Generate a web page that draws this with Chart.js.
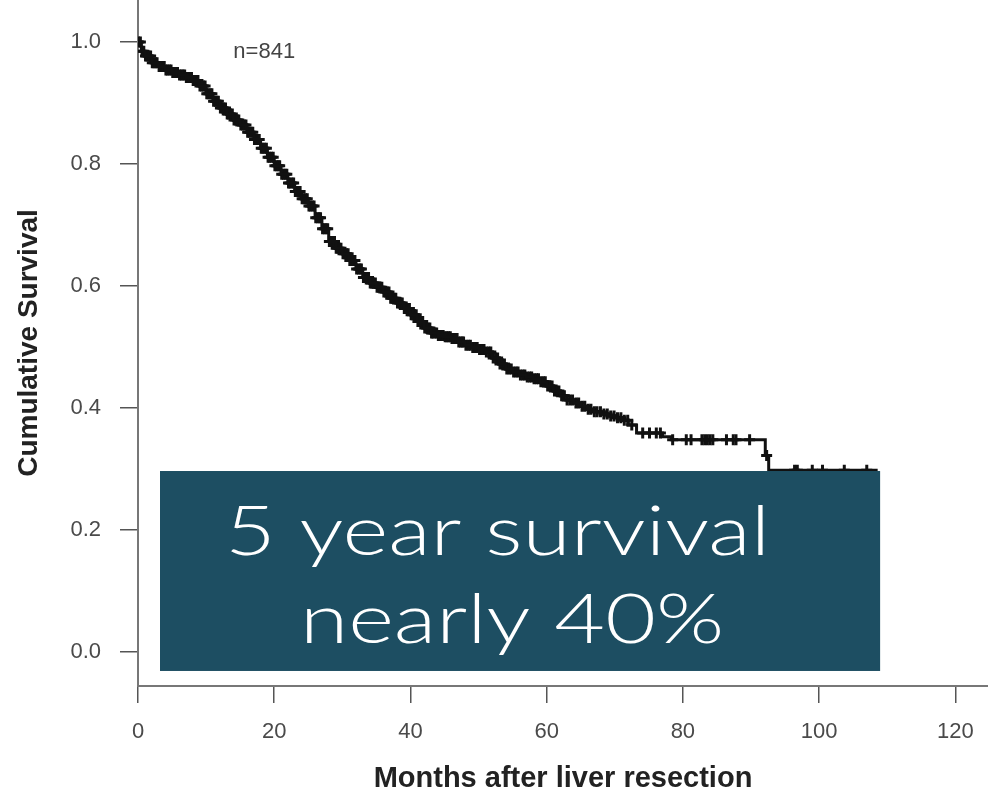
<!DOCTYPE html>
<html>
<head>
<meta charset="utf-8">
<script src="https://cdn.jsdelivr.net/npm/chart.js@4.4.1/dist/chart.umd.min.js"></script>
<style>
  html, body { margin: 0; padding: 0; background: #fff; }
  #wrap { width: 988px; height: 796px; }
</style>
</head>
<body>
<div id="wrap"><canvas id="kmChart" width="988" height="796"></canvas></div>
<script>
// Kaplan-Meier steps (months after resection, cumulative survival)
const months = [0, 0.5, 1, 2, 3, 4, 5, 6, 7, 8, 9, 10, 11, 12, 13, 14, 15, 16, 17, 18, 19, 20,
  21, 22, 23, 24, 25, 26, 27, 28, 29, 30, 31, 32, 33, 34, 35, 36, 37, 38, 39, 40,
  41, 42, 43, 44, 45, 46, 47, 48, 49, 50, 51, 52, 53, 54, 55, 56, 57, 58, 59, 60,
  61, 62, 63, 64, 65, 66, 67, 68, 69, 70, 71, 72, 73.2, 77, 78.3, 92.1, 92.6, 108.6];
const survival = [1.000, 0.985, 0.977, 0.966, 0.960, 0.954, 0.950, 0.946, 0.942, 0.937, 0.928, 0.915,
  0.903, 0.892, 0.882, 0.872, 0.864, 0.852, 0.840, 0.826, 0.811, 0.797,
  0.783, 0.769, 0.755, 0.743, 0.731, 0.712, 0.694, 0.673, 0.662, 0.653, 0.642, 0.628, 0.614, 0.605, 0.598, 0.590, 0.580, 0.572, 0.563, 0.553,
  0.542, 0.531, 0.523, 0.519, 0.517, 0.514, 0.508, 0.503, 0.499, 0.496, 0.492, 0.482, 0.472, 0.464, 0.459, 0.454, 0.451, 0.448, 0.443, 0.436,
  0.428, 0.420, 0.413, 0.408, 0.403, 0.398, 0.394, 0.390, 0.387, 0.384, 0.380, 0.372, 0.359, 0.353, 0.348, 0.322, 0.298, 0.298];

// censored patients (the + marks), very dense in the first four years
const censorMonths = [
  0.1, 0.35, 0.6, 0.85, 1.1, 1.3, 1.6, 1.85, 2.1, 2.35, 2.6, 2.8, 3.1, 3.35, 3.6, 3.85, 4.1, 4.3, 4.6, 4.85,
  5.1, 5.35, 5.6, 5.8, 6.1, 6.35, 6.6, 6.85, 7.1, 7.3, 7.6, 7.85, 8.1, 8.35, 8.6, 8.8, 9.1, 9.35, 9.6, 9.85,
  10.1, 10.3, 10.6, 10.85, 11.1, 11.35, 11.6, 11.8, 12.1, 12.35, 12.6, 12.85, 13.1, 13.3, 13.6, 13.85, 14.1, 14.35, 14.6, 14.8,
  15.1, 15.35, 15.6, 15.85, 16.1, 16.3, 16.6, 16.85, 17.1, 17.35, 17.6, 17.8, 18.1, 18.35, 18.6, 18.85, 19.1, 19.3, 19.6, 19.85,
  20.1, 20.35, 20.6, 20.8, 21.1, 21.35, 21.6, 21.85, 22.1, 22.3, 22.6, 22.85, 23.1, 23.35, 23.6, 23.8, 24.1, 24.35, 24.6, 24.85,
  25.1, 25.3, 25.6, 25.85, 26.1, 26.35, 26.6, 26.8, 27.1, 27.35, 27.6, 27.85, 28.1, 28.3, 28.6, 28.85, 29.1, 29.35, 29.6, 29.8,
  30.1, 30.35, 30.6, 30.85, 31.1, 31.3, 31.6, 31.85, 32.1, 32.35, 32.6, 32.8, 33.1, 33.35, 33.6, 33.85, 34.1, 34.3, 34.6, 34.85,
  35.1, 35.35, 35.6, 35.8, 36.1, 36.35, 36.6, 36.85, 37.1, 37.3, 37.6, 37.85, 38.1, 38.35, 38.6, 38.8, 39.1, 39.35, 39.6, 39.85,
  40.1, 40.3, 40.6, 40.85, 41.1, 41.35, 41.6, 41.8, 42.1, 42.35, 42.6, 42.85, 43.1, 43.3, 43.6, 43.85, 44.1, 44.35, 44.6, 44.8,
  45.1, 45.35, 45.6, 45.85, 46.1, 46.3, 46.6, 46.85, 47.1, 47.35, 47.6, 47.8,
  48.15, 48.5, 48.8, 49.15, 49.5, 49.8, 50.15, 50.5, 50.8, 51.15, 51.5, 51.8, 52.15, 52.5, 52.8, 53.15, 53.5, 53.8,
  54.15, 54.5, 54.8, 55.15, 55.5, 55.8, 56.15, 56.5, 56.8, 57.15, 57.5, 57.8, 58.15, 58.5, 58.8, 59.15, 59.5, 59.8,
  60.15, 60.5, 60.8, 61.15, 61.5, 61.8, 62.2, 62.6, 63.0, 63.4, 63.8, 64.3, 64.7, 65.2, 65.6, 66.1, 66.5, 67.0,
  67.4, 67.9, 68.4, 68.9, 69.4, 69.9, 70.4, 70.9, 71.4, 71.9, 72.5,
  74.1, 75.1, 76.1, 76.7, 78.5, 80.5, 81.2, 82.8, 83.2, 83.6, 84.0, 84.4, 86.4, 87.4, 87.8, 89.8,
  92.3, 96.4, 96.8, 99.0, 100.5, 103.7, 107.0];

const yTicks = [0, 0.2, 0.4, 0.6, 0.8, 1.0];
const xTicks = [0, 20, 40, 60, 80, 100, 120];
const nLabel = 'n=841';
const boxLines = ['5 year survival', 'nearly 40%'];

function survivalAt(t) {
  let s = survival[0];
  for (let i = 0; i < months.length; i++) {
    if (months[i] <= t) s = survival[i];
  }
  return s;
}

const curvePoints = months.map((m, i) => ({ x: m, y: survival[i] }));
const censorPoints = censorMonths.map(m => ({ x: m, y: survivalAt(m) }));

// annotation: sample size and the teal call-out box
const overlayPlugin = {
  id: 'overlay',
  afterDatasetsDraw(chart) {
    const { ctx, scales: { x, y } } = chart;
    ctx.save();
    ctx.font = '22px "Liberation Sans", Arial, sans-serif';
    ctx.fillStyle = '#444';
    ctx.textBaseline = 'middle';
    ctx.textAlign = 'left';
    ctx.fillText(nLabel, x.getPixelForValue(14), y.getPixelForValue(0.984));

    const left = x.getPixelForValue(3.23);
    const right = x.getPixelForValue(108.96);
    const top = y.getPixelForValue(0.2967);
    const bottom = y.getPixelForValue(-0.0311);
    ctx.fillStyle = '#1d4e62';
    ctx.fillRect(left, top, right - left, bottom - top);

    // slide text is stretched sideways, so widen the glyphs to the same span
    ctx.fillStyle = '#fff';
    ctx.font = '300 69px Lato, "Open Sans", sans-serif';
    ctx.textBaseline = 'alphabetic';
    const sx = 545 / ctx.measureText(boxLines[0]).width;
    ctx.save();
    ctx.translate(left + 65, top + 84);
    ctx.scale(sx, 1);
    ctx.fillText(boxLines[0], 0, 0);
    ctx.restore();
    ctx.save();
    ctx.translate(left + 140, top + 172);
    ctx.scale(sx, 1);
    ctx.fillText(boxLines[1], 0, 0);
    ctx.restore();
    ctx.restore();
  }
};

Chart.defaults.font.family = '"Liberation Sans", Arial, Helvetica, sans-serif';

const kmCtx = document.getElementById('kmChart').getContext('2d');
new Chart(kmCtx, {
  type: 'line',
  data: {
    datasets: [
      {
        data: curvePoints,
        stepped: true,
        borderColor: '#111',
        borderWidth: 3,
        pointRadius: 0,
        fill: false
      },
      {
        data: censorPoints,
        showLine: false,
        pointStyle: 'cross',
        pointRadius: 5.5,
        pointBorderWidth: 3,
        borderColor: '#111',
        backgroundColor: '#111'
      }
    ]
  },
  options: {
    responsive: false,
    animation: false,
    layout: { padding: 0, autoPadding: false },
    plugins: {
      legend: { display: false },
      tooltip: { enabled: false }
    },
    scales: {
      x: {
        type: 'linear',
        min: 0,
        max: 124.8,
        afterBuildTicks: (scale) => { scale.ticks = xTicks.map(v => ({ value: v })); },
        afterFit: (scale) => {
          scale.height = 110;
          scale.paddingLeft = 0;
          scale.paddingRight = 0;
        },
        grid: { drawOnChartArea: false, drawTicks: true, tickLength: 17, color: '#555', lineWidth: 1.5 },
        border: { color: '#777', width: 2 },
        ticks: {
          padding: 16,
          color: '#4a4a4a',
          font: { size: 22 },
          maxRotation: 0,
          callback: (v) => String(v)
        },
        title: {
          display: true,
          text: 'Months after liver resection',
          color: '#222',
          font: { size: 29, weight: 'bold' },
          padding: { top: 0, bottom: 0 }
        }
      },
      y: {
        min: -0.05574,
        max: 1.06885,
        afterBuildTicks: (scale) => { scale.ticks = yTicks.map(v => ({ value: v })); },
        afterFit: (scale) => {
          scale.width = 138;
          scale.paddingTop = 0;
          scale.paddingBottom = 0;
        },
        grid: { drawOnChartArea: false, drawTicks: true, tickLength: 18, color: '#555', lineWidth: 1.5 },
        border: { color: '#777', width: 2 },
        ticks: {
          padding: 19,
          color: '#4a4a4a',
          font: { size: 22 },
          callback: (v) => Number(v).toFixed(1)
        },
        title: {
          display: true,
          text: 'Cumulative Survival',
          color: '#222',
          font: { size: 28, weight: 'bold' },
          padding: { top: 12, bottom: 0 }
        }
      }
    }
  },
  plugins: [overlayPlugin]
});
</script>
</body>
</html>
